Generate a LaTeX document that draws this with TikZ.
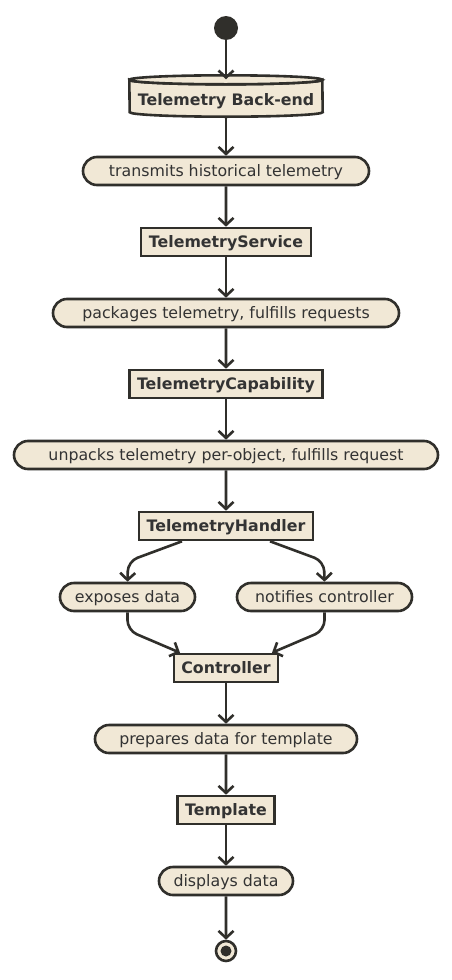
\documentclass[tikz,border=0pt]{standalone}
\usepackage{fontspec}
\setmainfont{DejaVu Sans}
\usetikzlibrary{arrows.meta,shapes.misc}
\definecolor{fillc}{HTML}{F1E8D6}
\definecolor{linec}{HTML}{302F2B}
\definecolor{textc}{HTML}{333333}
\tikzset{
  base/.style={draw=linec, fill=fillc, line width=2.6pt, text=textc, minimum height=28pt, inner sep=0pt, text height=13pt, text depth=2pt},
  act/.style={base, rounded rectangle, font=\fontsize{15.8}{18}\selectfont},
  obj/.style={base, rectangle, font=\bfseries\fontsize{15.8}{18}\selectfont},
  arr/.style={draw=linec, line width=2.6pt, -{Straight Barb[length=7pt,width=15pt,line width=2.6pt]}},
}
\begin{document}
\begin{tikzpicture}[x=1pt,y=-1pt]
\useasboundingbox[fill=white] (0,0) rectangle (452,980);
% start
\node[circle, fill=linec, minimum size=24pt, inner sep=0pt] (start) at (226,28) {};
% database
\node[minimum width=193pt, minimum height=41pt, inner sep=0pt] (db) at (226,96) {};
\path[draw=linec, fill=fillc, line width=2.6pt]
  ([yshift=-4.5pt]db.north west) arc[start angle=180, end angle=360, x radius=96.5pt, y radius=4.5pt]
  -- ([yshift=4.5pt]db.south east) arc[start angle=0, end angle=-180, x radius=96.5pt, y radius=4.5pt] -- cycle;
\path[draw=linec, fill=fillc, line width=2.6pt]
  ([yshift=-4.5pt]db.north west) arc[start angle=180, end angle=-180, x radius=96.5pt, y radius=4.5pt];
\node[font=\bfseries\fontsize{15.8}{18}\selectfont, text=textc, text height=13pt, text depth=2pt, inner sep=0pt] at ([yshift=-4pt]db.center) {Telemetry Back-end};
% flow
\node[act, minimum width=286pt] (a1) at (226,171) {transmits historical telemetry};
\node[obj, minimum width=170pt] (o1) at (226,242) {TelemetryService};
\node[act, minimum width=346pt] (a2) at (226,313) {packages telemetry, fulfills requests};
\node[obj, minimum width=193pt] (o2) at (226,384) {TelemetryCapability};
\node[act, minimum width=424pt] (a3) at (226,455) {unpacks telemetry per-object, fulfills request};
\node[obj, minimum width=174pt] (o3) at (226,526) {TelemetryHandler};
\node[act, minimum width=135pt] (e1) at (127.5,597) {exposes data};
\node[act, minimum width=175pt] (e2) at (324.5,597) {notifies controller};
\node[obj, minimum width=104pt] (o4) at (226,668) {Controller};
\node[act, minimum width=262pt] (a4) at (226,739) {prepares data for template};
\node[obj, minimum width=97pt] (o5) at (226,810) {Template};
\node[act, minimum width=134pt] (a5) at (226,881) {displays data};
\node[circle, draw=linec, fill=fillc, line width=2.6pt, minimum size=20pt, inner sep=0pt] (end) at (226,951) {};
\node[circle, fill=linec, minimum size=11pt, inner sep=0pt] at (end.center) {};
% connectors
\draw[arr] (start) -- ([yshift=-4pt]db.north);
\draw[arr] (db) -- (a1);
\draw[arr] (a1) -- (o1);
\draw[arr] (o1) -- (a2);
\draw[arr] (a2) -- (o2);
\draw[arr] (o2) -- (a3);
\draw[arr] (a3) -- (o3);
\draw[arr, rounded corners=10pt] ([xshift=-44pt]o3.south) -- ++(-54,20) -- (e1.north);
\draw[arr, rounded corners=10pt] ([xshift=44pt]o3.south) -- ++(54,20) -- (e2.north);
\draw[arr, rounded corners=10pt] (e1.south) -- ++(0,18) -- ([xshift=-46pt]o4.north);
\draw[arr, rounded corners=10pt] (e2.south) -- ++(0,18) -- ([xshift=46pt]o4.north);
\draw[arr] (o4) -- (a4);
\draw[arr] (a4) -- (o5);
\draw[arr] (o5) -- (a5);
\draw[arr] (a5) -- (end);
\end{tikzpicture}
\end{document}
